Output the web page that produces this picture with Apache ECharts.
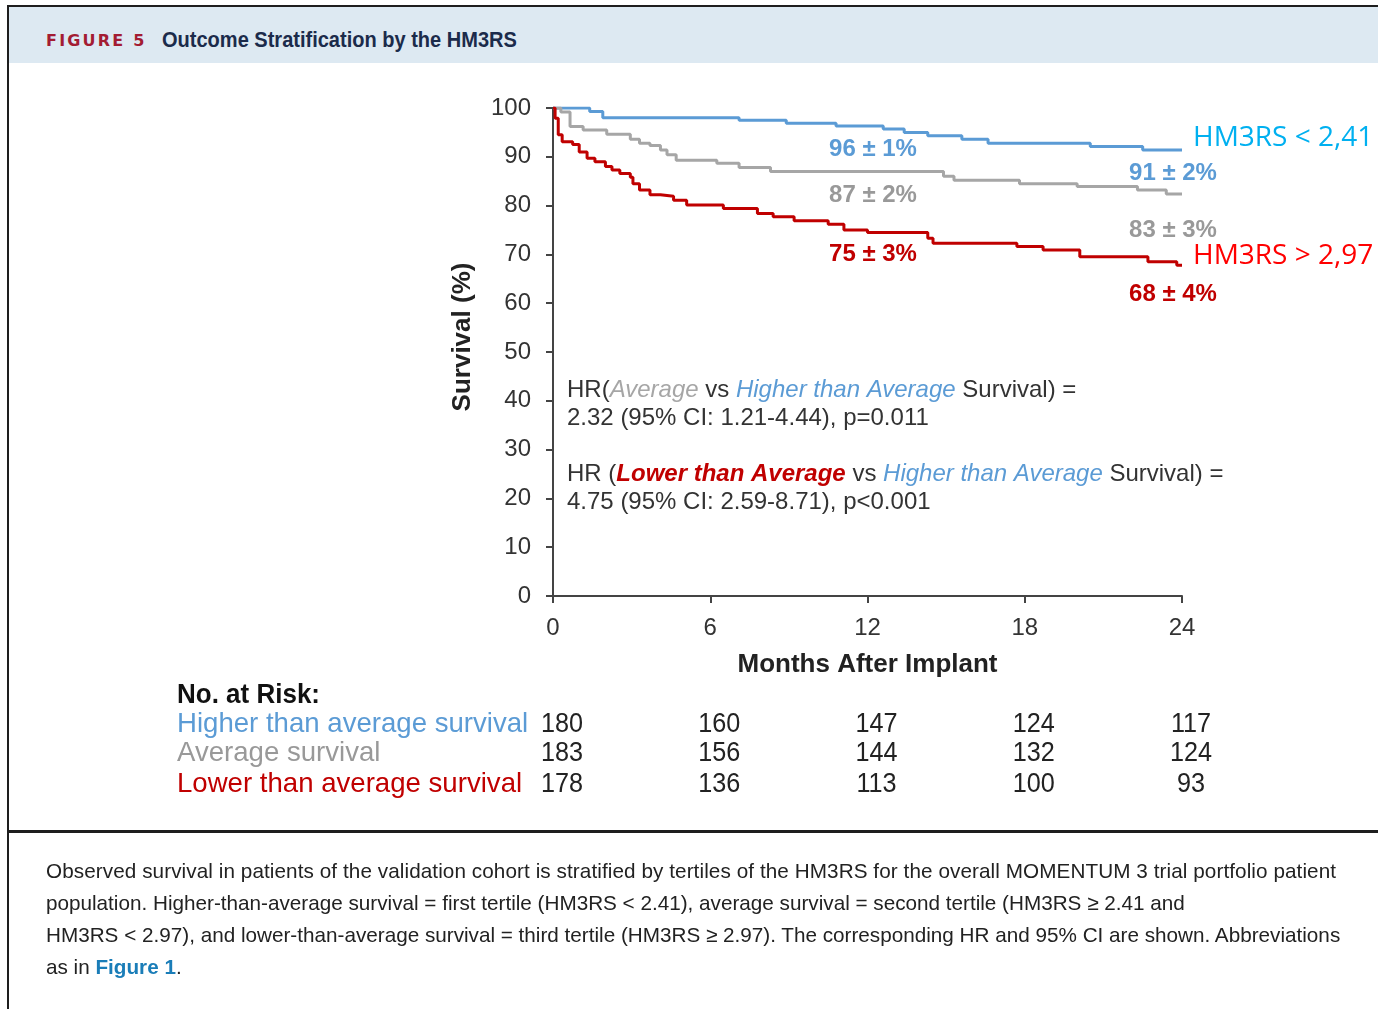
<!DOCTYPE html>
<html>
<head>
<meta charset="utf-8">
<script src="https://cdn.jsdelivr.net/npm/echarts@6/dist/echarts.min.js"></script>
<style>
  html, body { margin: 0; padding: 0; background: #fff; }
  body { width: 1378px; height: 1009px; position: relative; overflow: hidden; }
  #chart { position: absolute; left: 0; top: 0; width: 1378px; height: 1009px; }
  .blk { position: absolute; background: #1e1e1e; }
  #band { position: absolute; left: 9px; top: 7px; width: 1369px; height: 56px; background: #dde9f2; }
  #title { position: absolute; left: 46px; top: 27px; white-space: nowrap; font-family: "Liberation Sans", Arial, sans-serif; font-weight: bold; }
  #title .fig { color: #a31c33; font-size: 16px; letter-spacing: 2.2px; font-family: "DejaVu Sans", sans-serif; vertical-align: middle; }
  #title .ttl { color: #1b2b4b; display: inline-block; margin-left: 15px; font-size: 22px; transform: scaleX(0.91); transform-origin: left center; vertical-align: middle; }
  #caption { position: absolute; left: 46px; top: 855px; font-family: "Liberation Sans", Arial, sans-serif; font-size: 20.7px; line-height: 32px; color: #222; white-space: nowrap; }
  #caption .l1 { letter-spacing: 0.08px; }
  #caption b { color: #1a7db8; }
</style>
</head>
<body>
<div id="band"></div>
<div class="blk" style="left:7px;top:5px;width:1371px;height:2px;"></div>
<div class="blk" style="left:7px;top:5px;width:2px;height:1004px;"></div>
<div class="blk" style="left:7px;top:830px;width:1371px;height:3px;"></div>
<div id="title"><span class="fig">FIGURE 5</span><span class="ttl">Outcome Stratification by the HM3RS</span></div>
<div id="chart"></div>
<div id="caption">
<div class="l1">Observed survival in patients of the validation cohort is stratified by tertiles of the HM3RS for the overall MOMENTUM 3 trial portfolio patient</div>
<div>population. Higher-than-average survival = first tertile (HM3RS &lt; 2.41), average survival = second tertile (HM3RS ≥ 2.41 and</div>
<div>HM3RS &lt; 2.97), and lower-than-average survival = third tertile (HM3RS ≥ 2.97). The corresponding HR and 95% CI are shown. Abbreviations</div>
<div>as in <b>Figure 1</b>.</div>
</div>
<script>
// ---- Data (months, survival %) ----
const seriesNames = ['Higher than average survival', 'Average survival', 'Lower than average survival'];

const highMonths = [0, 1.4, 1.9, 7.1, 8.9, 10.8, 12.6, 13.4, 14.3, 15.6, 16.6, 20.5, 22.5, 24];
const highSurv   = [100, 99.3, 98.0, 97.5, 96.9, 96.3, 95.7, 95.0, 94.3, 93.6, 92.8, 92.1, 91.4, 91.4];

const avgMonths = [0, 0.3, 0.65, 1.15, 2.05, 2.95, 3.3, 3.7, 4.1, 4.35, 4.7, 6.25, 7.1, 8.3, 14.9, 15.3, 17.8, 20.0, 22.3, 23.4, 24];
const avgSurv   = [100, 99.2, 96.2, 95.5, 94.6, 93.6, 92.8, 92.3, 91.4, 90.4, 89.3, 88.7, 87.8, 87.0, 86.0, 85.2, 84.5, 83.9, 83.2, 82.4, 82.4];

const lowMonths = [0, 0.08, 0.2, 0.35, 0.75, 1.0, 1.3, 1.6, 2.0, 2.25, 2.55, 2.95, 3.05, 3.3, 3.7, 4.1, 4.6, 5.1, 6.5, 7.8, 8.4, 9.2, 10.5, 11.1, 12.0, 14.3, 14.5, 17.7, 18.7, 20.1, 22.7, 23.8, 24];
const lowSurv   = [100, 97.9, 94.5, 93.1, 92.5, 91.0, 89.7, 89.0, 88.0, 87.3, 86.6, 85.8, 84.5, 83.2, 82.2, 81.9, 81.1, 80.1, 79.4, 78.4, 77.7, 76.9, 76.2, 75.0, 74.5, 73.3, 72.3, 71.6, 70.9, 69.5, 68.5, 67.8, 67.8];

const xTicks = [0, 6, 12, 18, 24];
const yTicks = [0, 10, 20, 30, 40, 50, 60, 70, 80, 90, 100];

const riskMonths = [0, 6, 12, 18, 24];
const riskHigh = [180, 160, 147, 124, 117];
const riskAvg  = [183, 156, 144, 132, 124];
const riskLow  = [178, 136, 113, 100, 93];

const labels12 = ['96 ± 1%', '87 ± 2%', '75 ± 3%'];
const labels24 = ['91 ± 2%', '83 ± 3%', '68 ± 4%'];

// ---- Styles ----
const C_BLUE = '#5b9bd5', C_GRAY = '#a6a6a6', C_RED = '#c00000';
const C_TXT = '#333333';
const F = '"Liberation Sans", Arial, sans-serif';

function zip(a, b) { return a.map((v, i) => [v, b[i]]); }

const chart = echarts.init(document.getElementById('chart'), null, { renderer: 'canvas' });

function stepSeries(name, xs, ys, color) {
  return {
    name: name, type: 'line', step: 'end', data: zip(xs, ys),
    symbol: 'none', lineStyle: { color: color, width: 3 }, itemStyle: { color: color },
    silent: true, animation: false, z: 3
  };
}

const option = {
  animation: false,
  backgroundColor: 'transparent',
  grid: { left: 553, top: 108, right: 196, bottom: 413, containLabel: false },
  xAxis: {
    type: 'value', min: 0, max: 24, interval: 6,
    name: 'Months After Implant', nameLocation: 'middle', nameGap: 56,
    nameTextStyle: { fontFamily: F, fontSize: 26, fontWeight: 'bold', color: '#222' },
    axisLine: { show: true, lineStyle: { color: '#444', width: 2 } },
    axisTick: { show: true, length: 7, lineStyle: { color: '#444', width: 2 } },
    axisLabel: { fontFamily: F, fontSize: 24, color: C_TXT, margin: 20 },
    splitLine: { show: false }
  },
  yAxis: {
    type: 'value', min: 0, max: 100, interval: 10,
    axisLine: { show: true, lineStyle: { color: '#444', width: 2 } },
    axisTick: { show: true, length: 7, lineStyle: { color: '#444', width: 2 } },
    axisLabel: { fontFamily: F, fontSize: 24, color: C_TXT, margin: 22 },
    splitLine: { show: false }
  },
  series: [
    stepSeries(seriesNames[0], highMonths, highSurv, C_BLUE),
    stepSeries(seriesNames[1], avgMonths, avgSurv, C_GRAY),
    stepSeries(seriesNames[2], lowMonths, lowSurv, C_RED)
  ]
};
chart.setOption(option);

function px(m, v) { return chart.convertToPixel({ gridIndex: 0 }, [m, v]); }

const g = [];
function txt(x, y, text, style, extra) {
  g.push(Object.assign({ type: 'text', x: x, y: y, silent: true, style: Object.assign({ text: text, textVerticalAlign: 'middle' }, style) }, extra || {}));
}

// y axis title
g.push({ type: 'text', x: 463, y: 337, rotation: Math.PI / 2, silent: true,
  style: { text: 'Survival (%)', fontFamily: F, fontSize: 26, fontWeight: 'bold', fill: '#222', textAlign: 'center', textVerticalAlign: 'middle' } });

// percent labels
const lblColors = [C_BLUE, '#999999', C_RED];
const y12 = [149, 195, 254], y24 = [173, 230, 294];
labels12.forEach((t, i) => txt(873, y12[i], t, { fontFamily: F, fontSize: 24, fontWeight: 'bold', fill: lblColors[i], textAlign: 'center' }));
labels24.forEach((t, i) => txt(1173, y24[i], t, { fontFamily: F, fontSize: 24, fontWeight: 'bold', fill: lblColors[i], textAlign: 'center' }));

// HM3RS cutoff labels
txt(1193, 138, 'HM3RS < 2,41', { fontFamily: '"Open Sans", "Noto Sans", sans-serif', fontSize: 28, fill: '#00b0f0', textAlign: 'left' });
txt(1193, 256, 'HM3RS > 2,97', { fontFamily: '"Open Sans", "Noto Sans", sans-serif', fontSize: 28, fill: '#ff0000', textAlign: 'left' });

// HR text
const HS = 24;
const hrRich = {
  n: { fontFamily: F, fontSize: HS, fill: '#333' },
  g: { fontFamily: F, fontSize: HS, fontStyle: 'italic', fill: '#a6a6a6' },
  b: { fontFamily: F, fontSize: HS, fontStyle: 'italic', fill: C_BLUE },
  r: { fontFamily: F, fontSize: HS, fontStyle: 'italic', fontWeight: 'bold', fill: C_RED }
};
txt(567, 390, '{n|HR(}{g|Average}{n| vs }{b|Higher than Average}{n| Survival) =}', { rich: hrRich, textAlign: 'left' });
txt(567, 418, '{n|2.32 (95% CI: 1.21-4.44), p=0.011}', { rich: hrRich, textAlign: 'left' });
txt(567, 474, '{n|HR (}{r|Lower than Average}{n| vs }{b|Higher than Average}{n| Survival) =}', { rich: hrRich, textAlign: 'left' });
txt(567, 502, '{n|4.75 (95% CI: 2.59-8.71), p<0.001}', { rich: hrRich, textAlign: 'left' });

// risk table
txt(177, 695, 'No. at Risk:', { fontFamily: F, fontSize: 26, fontWeight: 'bold', fill: '#111', textAlign: 'left' }, { scaleY: 1.05 });
const rowY = [724, 753, 784];
const rowCol = [C_BLUE, '#999999', C_RED];
const rowData = [riskHigh, riskAvg, riskLow];
seriesNames.forEach((nm, i) => {
  txt(177, rowY[i], nm, { fontFamily: F, fontSize: 27.6, fill: rowCol[i], textAlign: 'left' });
  rowData[i].forEach((v, j) => {
    const p = px(riskMonths[j], 0);
    txt(p[0] + 9, rowY[i], String(v), { fontFamily: F, fontSize: 28, fill: '#222', textAlign: 'center' }, { scaleX: 0.9 });
  });
});

chart.setOption({ graphic: { elements: g } });
</script>
</body>
</html>
